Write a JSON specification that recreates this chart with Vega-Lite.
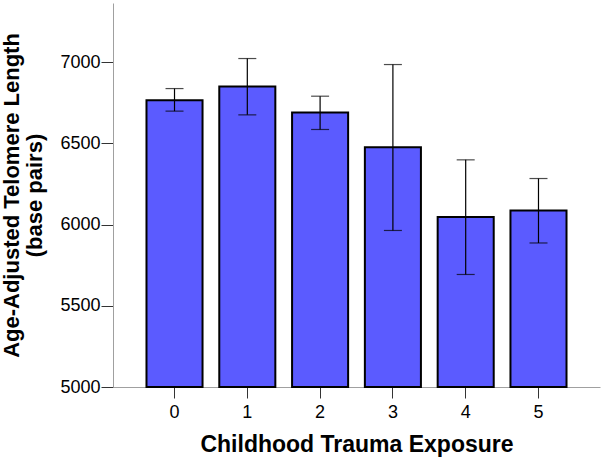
{
  "$schema": "https://vega.github.io/schema/vega-lite/v6.json",
  "width": 487,
  "height": 384,
  "autosize": {"type": "none"},
  "padding": {"left": 113, "top": 3, "right": 2, "bottom": 75},
  "background": "white",
  "config": {
    "font": "Liberation Sans",
    "view": {"stroke": null},
    "axis": {"grid": false, "labelFont": "Liberation Sans", "titleFont": "Liberation Sans"}
  },
  "data": {
    "values": [
      {"exposure": "0", "mean": 6766, "lo": 6699, "hi": 6838},
      {"exposure": "1", "mean": 6851, "lo": 6676, "hi": 7023},
      {"exposure": "2", "mean": 6691, "lo": 6586, "hi": 6791},
      {"exposure": "3", "mean": 6477, "lo": 5964, "hi": 6986},
      {"exposure": "4", "mean": 6047, "lo": 5693, "hi": 6399},
      {"exposure": "5", "mean": 6087, "lo": 5887, "hi": 6284}
    ]
  },
  "encoding": {
    "x": {
      "field": "exposure",
      "type": "ordinal",
      "scale": {"paddingInner": 0.23, "paddingOuter": 0.46},
      "axis": {
        "title": "Childhood Trauma Exposure",
        "labelAngle": 0,
        "labelFontSize": 18,
        "labelColor": "#000000",
        "labelPadding": 5,
        "tickSize": 11,
        "tickColor": "#333333",
        "domainColor": "#a0a0a0",
        "titleFontSize": 23,
        "titleFontWeight": "bold",
        "titleColor": "#000000",
        "titlePadding": 12
      }
    }
  },
  "layer": [
    {
      "mark": {"type": "bar", "fill": "#5B5BFF", "stroke": "#000000", "strokeWidth": 2},
      "encoding": {
        "y": {
          "field": "mean",
          "type": "quantitative",
          "scale": {"domain": [5000, 7365], "nice": false, "zero": false},
          "axis": {
            "title": ["Age-Adjusted Telomere Length", "(base pairs)"],
            "values": [5000, 5500, 6000, 6500, 7000],
            "format": "d",
            "labelFontSize": 18,
            "labelColor": "#000000",
            "labelPadding": 1,
            "tickSize": 12,
            "tickColor": "#333333",
            "domainColor": "#a0a0a0",
            "titleFontSize": 22,
            "titleFontWeight": "bold",
            "titleColor": "#000000",
            "titleLineHeight": 23,
            "titlePadding": 13
          }
        },
        "y2": {"datum": 5000}
      }
    },
    {
      "mark": {"type": "rule", "color": "#000000", "strokeWidth": 1.2},
      "encoding": {
        "y": {"field": "lo", "type": "quantitative"},
        "y2": {"field": "hi"}
      }
    },
    {
      "mark": {"type": "tick", "color": "#000000", "size": 18, "thickness": 1.2, "orient": "horizontal"},
      "encoding": {"y": {"field": "lo", "type": "quantitative"}}
    },
    {
      "mark": {"type": "tick", "color": "#000000", "size": 18, "thickness": 1.2, "orient": "horizontal"},
      "encoding": {"y": {"field": "hi", "type": "quantitative"}}
    }
  ]
}
